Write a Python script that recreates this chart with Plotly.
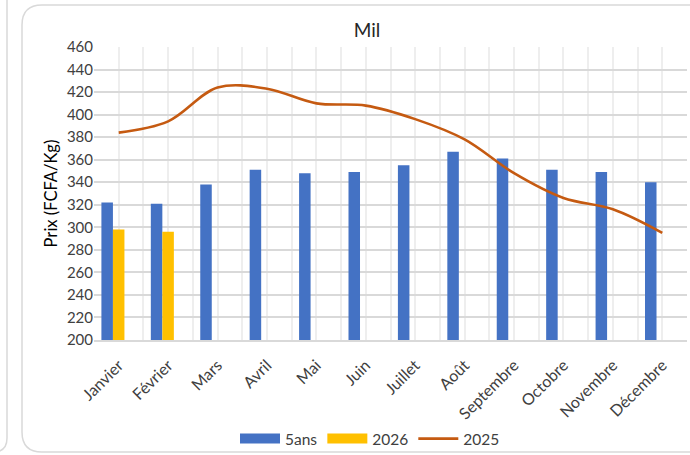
import plotly.graph_objects as go

months = ["Janvier", "Février", "Mars", "Avril", "Mai", "Juin", "Juillet",
          "Août", "Septembre", "Octobre", "Novembre", "Décembre"]
cinq_ans = [322, 321, 338, 351, 348, 349, 355, 367, 361, 351, 349, 340]
an_2026 = [298, 296, None, None, None, None, None, None, None, None, None, None]
an_2025 = [384, 394, 424, 423, 410, 408, 396, 378, 348, 326, 316, 295]
y_ticks = list(range(200, 461, 20))

BLUE = "#4472C4"
YELLOW = "#FFC000"
ORANGE = "#C55A11"
FONT = "Lato"

W, H = 690, 455
L, R, T, B = 94, 3, 47, 115
PW, PH = W - L - R, H - T - B

def px(x):
    return (x - L) / PW

def py(y):
    return (H - B - y) / PH

xs = list(range(len(months)))

fig = go.Figure()
fig.add_trace(go.Bar(x=xs, y=cinq_ans, name="5ans", marker=dict(color=BLUE, line=dict(width=0)),
                     width=0.233, offset=-0.35, showlegend=False))
fig.add_trace(go.Bar(x=xs, y=an_2026, name="2026", marker=dict(color=YELLOW, line=dict(width=0)),
                     width=0.233, offset=-0.117, showlegend=False))
fig.add_trace(go.Scatter(x=xs, y=an_2025, name="2025", mode="lines",
                         line=dict(color=ORANGE, width=2.6, shape="spline", smoothing=1),
                         showlegend=False))
# legend entries
fig.add_trace(go.Scatter(x=[None], y=[None], name="5ans", mode="lines",
                         line=dict(color=BLUE, width=10)))
fig.add_trace(go.Scatter(x=[None], y=[None], name="2026", mode="lines",
                         line=dict(color=YELLOW, width=10)))
fig.add_trace(go.Scatter(x=[None], y=[None], name="2025", mode="lines",
                         line=dict(color=ORANGE, width=2.6)))

shapes = []
# outer rounded border of this chart
x0, y0, x1, y1, r = 22, 5, 705, 452, 20
path = (f"M {px(x0)},{py(y0 + r)} Q {px(x0)},{py(y0)} {px(x0 + r)},{py(y0)} "
        f"L {px(x1)},{py(y0)} M {px(x0)},{py(y0 + r)} L {px(x0)},{py(y1 - r)} "
        f"Q {px(x0)},{py(y1)} {px(x0 + r)},{py(y1)} L {px(x1)},{py(y1)}")
shapes.append(dict(type="path", xref="paper", yref="paper", path=path,
                   line=dict(color="#d9d9d9", width=1.5), layer="below"))
# neighbour chart edge on the left
path2 = (f"M {px(7)},{py(-5)} L {px(7)},{py(y1 - 14)} Q {px(7)},{py(y1)} {px(-7)},{py(y1)}")
shapes.append(dict(type="path", xref="paper", yref="paper", path=path2,
                   line=dict(color="#d9d9d9", width=1.5), layer="below"))

fig.update_layout(
    width=W, height=H,
    margin=dict(l=L, r=R, t=T, b=B, autoexpand=False),
    paper_bgcolor="white", plot_bgcolor="white",
    font=dict(family=FONT, size=15, color="#404040"),
    title=dict(text="Mil", x=px(367), xref="paper", xanchor="center",
               y=1 - 30 / H, yref="container", yanchor="middle",
               font=dict(family=FONT, size=19, color="#262626")),
    barmode="overlay",
    bargap=0.3,
    legend=dict(orientation="h", x=px(370), xanchor="center", y=py(439), yanchor="middle",
                font=dict(family=FONT, size=15.5, color="#404040"),
                itemwidth=40, tracegroupgap=0, bgcolor="rgba(0,0,0,0)"),
    shapes=shapes,
)
fig.update_xaxes(
    range=[-0.5, len(months) - 0.5],
    tickmode="array", tickvals=xs, ticktext=months, tickangle=-45,
    showgrid=True, gridcolor="#eeeeee", gridwidth=1.5,
    minor=dict(tickmode="array", tickvals=[i - 0.5 for i in range(len(months) + 1)],
               showgrid=True, gridcolor="#eeeeee", gridwidth=1.5, ticks=""),
    showline=True, linecolor="#d9d9d9", linewidth=1.5,
    ticks="outside", ticklen=8, tickcolor="rgba(0,0,0,0)", zeroline=False,
    tickfont=dict(family=FONT, size=16, color="#404040"),
)
fig.update_yaxes(
    range=[200, 460], tickmode="array", tickvals=y_ticks,
    showgrid=True, gridcolor="#d9d9d9", gridwidth=1.5,
    showline=False, zeroline=False, ticks="",
    tickfont=dict(family=FONT, size=15, color="#404040"),
    title=dict(text="Prix (FCFA/Kg)", standoff=5,
               font=dict(family=FONT, size=16.5, color="#000000")),
)

fig.write_html("out.html", post_script="document.body.style.margin='0';",
               config={"displayModeBar": False})
